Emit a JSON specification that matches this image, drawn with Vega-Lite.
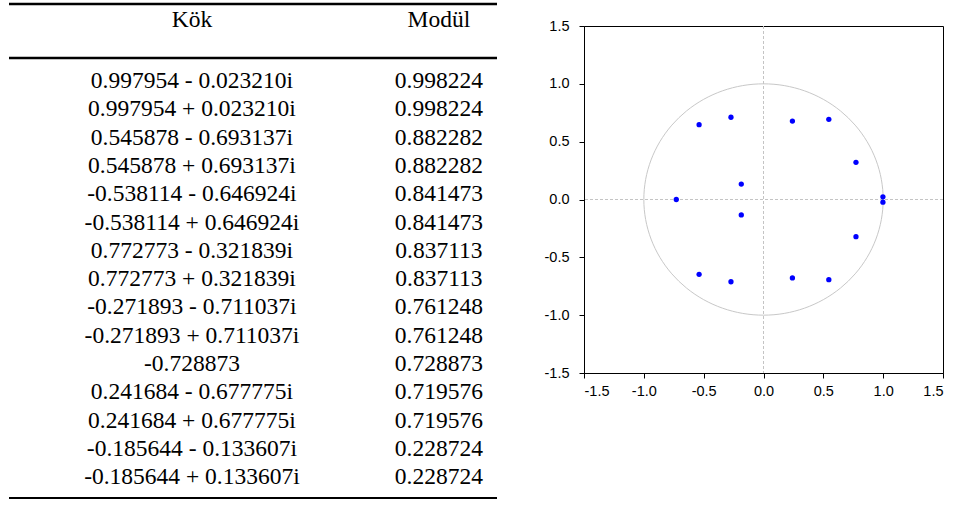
{
  "$schema": "https://vega.github.io/schema/vega-lite/v6.json",
  "padding": {"left": 7, "top": 2, "right": 0, "bottom": 0},
  "bounds": "flush",
  "spacing": 87,
  "config": {
    "view": {"stroke": null},
    "axis": {
      "labelFont": "Liberation Sans",
      "labelFontSize": 14.5,
      "labelColor": "#000000",
      "tickColor": "#000000",
      "domainColor": "#000000",
      "tickSize": 5,
      "grid": false,
      "title": null
    }
  },
  "datasets": {
    "kokler": [
      {"sira": 1, "kok": "0.997954 - 0.023210i", "modul": "0.998224", "re": 0.997954, "im": -0.023210},
      {"sira": 2, "kok": "0.997954 + 0.023210i", "modul": "0.998224", "re": 0.997954, "im": 0.023210},
      {"sira": 3, "kok": "0.545878 - 0.693137i", "modul": "0.882282", "re": 0.545878, "im": -0.693137},
      {"sira": 4, "kok": "0.545878 + 0.693137i", "modul": "0.882282", "re": 0.545878, "im": 0.693137},
      {"sira": 5, "kok": "-0.538114 - 0.646924i", "modul": "0.841473", "re": -0.538114, "im": -0.646924},
      {"sira": 6, "kok": "-0.538114 + 0.646924i", "modul": "0.841473", "re": -0.538114, "im": 0.646924},
      {"sira": 7, "kok": "0.772773 - 0.321839i", "modul": "0.837113", "re": 0.772773, "im": -0.321839},
      {"sira": 8, "kok": "0.772773 + 0.321839i", "modul": "0.837113", "re": 0.772773, "im": 0.321839},
      {"sira": 9, "kok": "-0.271893 - 0.711037i", "modul": "0.761248", "re": -0.271893, "im": -0.711037},
      {"sira": 10, "kok": "-0.271893 + 0.711037i", "modul": "0.761248", "re": -0.271893, "im": 0.711037},
      {"sira": 11, "kok": "-0.728873", "modul": "0.728873", "re": -0.728873, "im": 0},
      {"sira": 12, "kok": "0.241684 - 0.677775i", "modul": "0.719576", "re": 0.241684, "im": -0.677775},
      {"sira": 13, "kok": "0.241684 + 0.677775i", "modul": "0.719576", "re": 0.241684, "im": 0.677775},
      {"sira": 14, "kok": "-0.185644 - 0.133607i", "modul": "0.228724", "re": -0.185644, "im": -0.133607},
      {"sira": 15, "kok": "-0.185644 + 0.133607i", "modul": "0.228724", "re": -0.185644, "im": 0.133607}
    ],
    "birim_cember": [
      {"aci": 0, "re": 1.0, "im": 0.0},
      {"aci": 10, "re": 0.9848, "im": 0.1736},
      {"aci": 20, "re": 0.9397, "im": 0.3420},
      {"aci": 30, "re": 0.8660, "im": 0.5},
      {"aci": 40, "re": 0.7660, "im": 0.6428},
      {"aci": 50, "re": 0.6428, "im": 0.7660},
      {"aci": 60, "re": 0.5, "im": 0.8660},
      {"aci": 70, "re": 0.3420, "im": 0.9397},
      {"aci": 80, "re": 0.1736, "im": 0.9848},
      {"aci": 90, "re": 0.0, "im": 1.0},
      {"aci": 100, "re": -0.1736, "im": 0.9848},
      {"aci": 110, "re": -0.3420, "im": 0.9397},
      {"aci": 120, "re": -0.5, "im": 0.8660},
      {"aci": 130, "re": -0.6428, "im": 0.7660},
      {"aci": 140, "re": -0.7660, "im": 0.6428},
      {"aci": 150, "re": -0.8660, "im": 0.5},
      {"aci": 160, "re": -0.9397, "im": 0.3420},
      {"aci": 170, "re": -0.9848, "im": 0.1736},
      {"aci": 180, "re": -1.0, "im": 0.0},
      {"aci": 190, "re": -0.9848, "im": -0.1736},
      {"aci": 200, "re": -0.9397, "im": -0.3420},
      {"aci": 210, "re": -0.8660, "im": -0.5},
      {"aci": 220, "re": -0.7660, "im": -0.6428},
      {"aci": 230, "re": -0.6428, "im": -0.7660},
      {"aci": 240, "re": -0.5, "im": -0.8660},
      {"aci": 250, "re": -0.3420, "im": -0.9397},
      {"aci": 260, "re": -0.1736, "im": -0.9848},
      {"aci": 270, "re": 0.0, "im": -1.0},
      {"aci": 280, "re": 0.1736, "im": -0.9848},
      {"aci": 290, "re": 0.3420, "im": -0.9397},
      {"aci": 300, "re": 0.5, "im": -0.8660},
      {"aci": 310, "re": 0.6428, "im": -0.7660},
      {"aci": 320, "re": 0.7660, "im": -0.6428},
      {"aci": 330, "re": 0.8660, "im": -0.5},
      {"aci": 340, "re": 0.9397, "im": -0.3420},
      {"aci": 350, "re": 0.9848, "im": -0.1736}
    ],
    "basliklar": [
      {"baslik": "Kök"},
      {"baslik": "Modül"}
    ],
    "cizgiler": [
      {"konum": -1.721, "kalinlik": "kalin"},
      {"konum": 0.187, "kalinlik": "kalin"},
      {"konum": 15.735, "kalinlik": "ince"}
    ]
  },
  "hconcat": [
    {
      "width": 488,
      "height": 347,
      "layer": [
        {
          "data": {"name": "cizgiler"},
          "mark": {"type": "rule", "color": "#000000"},
          "encoding": {
            "y": {"field": "konum", "type": "quantitative", "scale": {"domain": [-0.9435, 11.318], "reverse": true, "nice": false, "zero": false}, "axis": null},
            "strokeWidth": {"field": "kalinlik", "type": "nominal", "scale": {"domain": ["kalin", "ince"], "range": [2.5, 1.8]}, "legend": null}
          }
        },
        {
          "data": {"name": "basliklar"},
          "mark": {"type": "text", "font": "Liberation Serif", "fontSize": 23.5, "color": "#000000", "baseline": "middle", "align": "center"},
          "encoding": {
            "x": {"field": "baslik", "type": "nominal", "scale": {"type": "point", "domain": ["Kök", "Modül"], "padding": 0.488, "align": 0.759}, "axis": null},
            "y": {"datum": -1.155, "type": "quantitative"},
            "text": {"field": "baslik"}
          }
        },
        {
          "data": {"name": "kokler"},
          "mark": {"type": "text", "font": "Liberation Serif", "fontSize": 23.5, "color": "#000000", "baseline": "middle", "align": "center"},
          "encoding": {
            "x": {"datum": "Kök", "type": "nominal"},
            "y": {"field": "sira", "type": "quantitative"},
            "text": {"field": "kok"}
          }
        },
        {
          "data": {"name": "kokler"},
          "mark": {"type": "text", "font": "Liberation Serif", "fontSize": 23.5, "color": "#000000", "baseline": "middle", "align": "center"},
          "encoding": {
            "x": {"datum": "Modül", "type": "nominal"},
            "y": {"field": "sira", "type": "quantitative"},
            "text": {"field": "modul"}
          }
        }
      ]
    },
    {
      "width": 359,
      "height": 347,
      "view": {"stroke": "#000000", "strokeWidth": 1},
      "layer": [
        {
          "data": {"values": [{"eksen": 0}]},
          "mark": {"type": "rule", "color": "#c4c4c4", "strokeWidth": 1, "strokeDash": [3, 2]},
          "encoding": {"x": {"field": "eksen", "type": "quantitative"}}
        },
        {
          "data": {"values": [{"eksen": 0}]},
          "mark": {"type": "rule", "color": "#c4c4c4", "strokeWidth": 1, "strokeDash": [3, 2]},
          "encoding": {"y": {"field": "eksen", "type": "quantitative"}}
        },
        {
          "data": {"name": "birim_cember"},
          "mark": {"type": "line", "color": "#c8c8c8", "strokeWidth": 1, "interpolate": "cardinal-closed"},
          "encoding": {
            "x": {"field": "re", "type": "quantitative"},
            "y": {"field": "im", "type": "quantitative"},
            "order": {"field": "aci", "type": "quantitative"}
          }
        },
        {
          "data": {"name": "kokler"},
          "mark": {"type": "circle", "color": "#0000ff", "opacity": 1, "size": 28},
          "encoding": {
            "x": {
              "field": "re",
              "type": "quantitative",
              "scale": {"domain": [-1.5, 1.5], "nice": false, "zero": false},
              "axis": {"values": [-1.5, -1, -0.5, 0, 0.5, 1, 1.5], "labelExpr": "replace(format(datum.value, '.1f'), '\u2212', '-')", "labelPadding": 6}
            },
            "y": {
              "field": "im",
              "type": "quantitative",
              "scale": {"domain": [-1.5, 1.5], "nice": false, "zero": false},
              "axis": {"values": [-1.5, -1, -0.5, 0, 0.5, 1, 1.5], "labelExpr": "replace(format(datum.value, '.1f'), '\u2212', '-')", "labelPadding": 10}
            }
          }
        }
      ]
    }
  ]
}
